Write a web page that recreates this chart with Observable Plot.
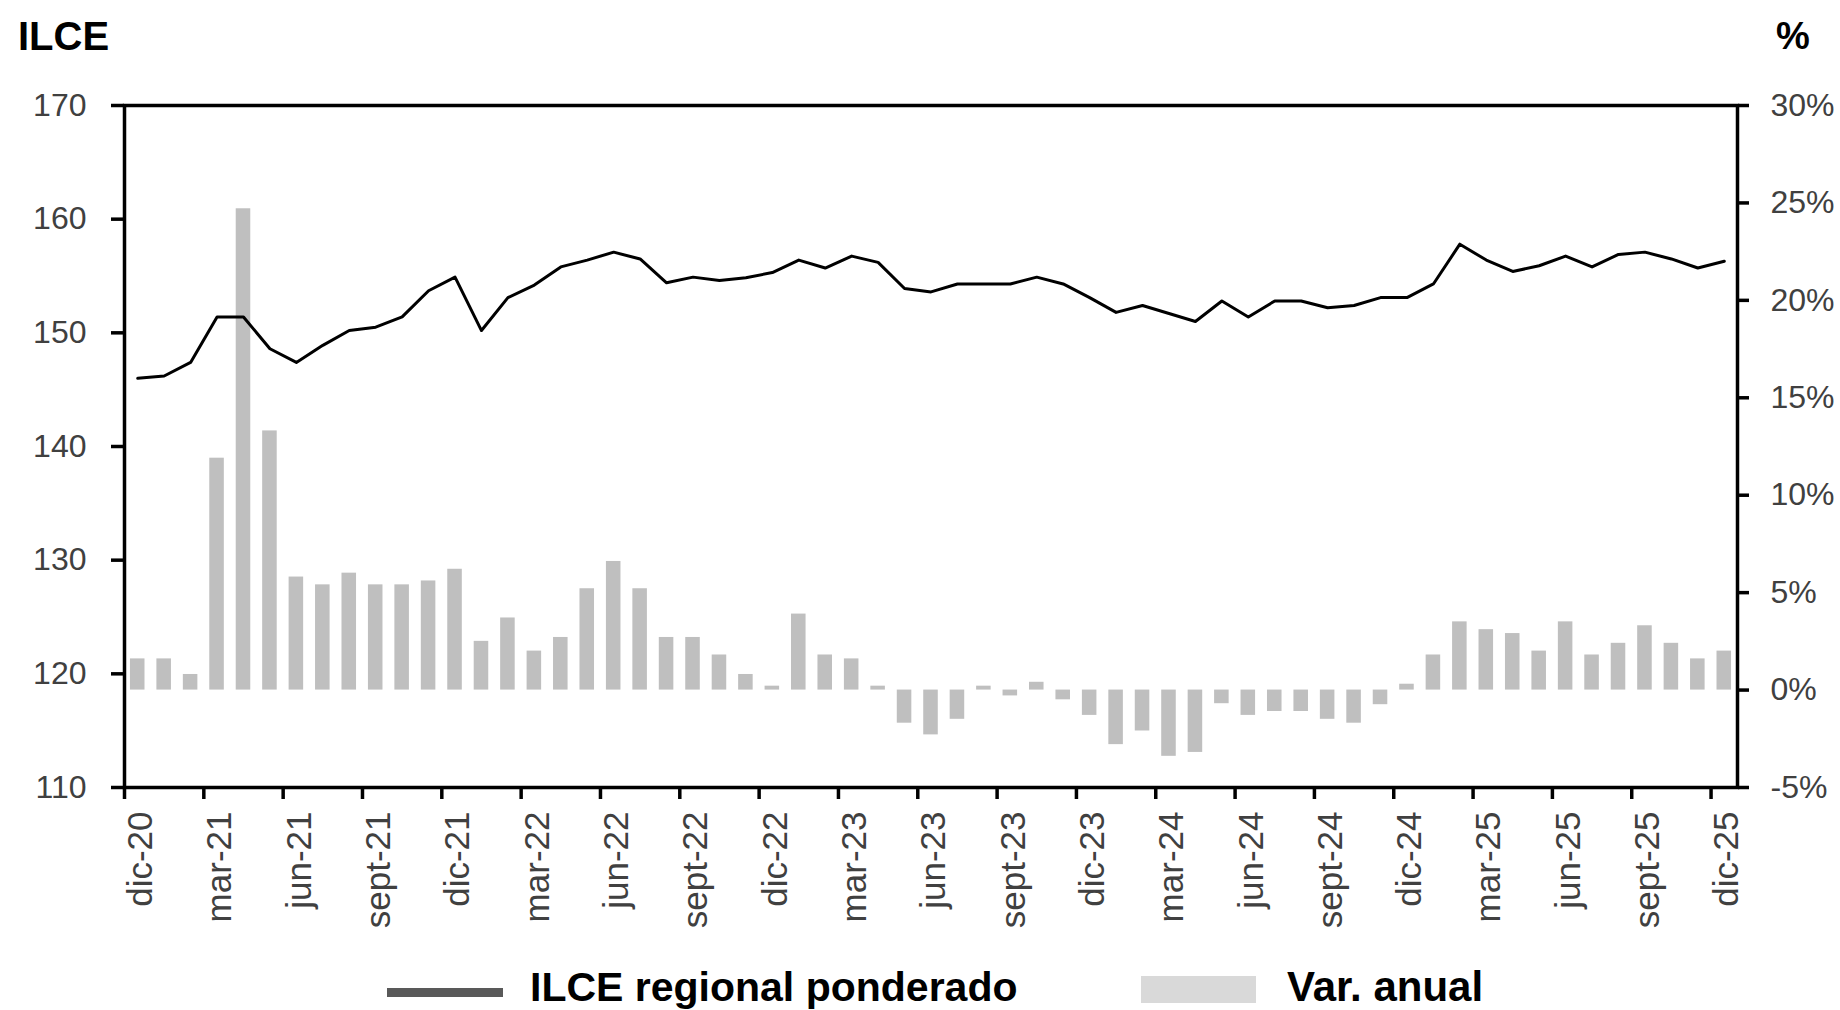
<!DOCTYPE html>
<html>
<head>
<meta charset="utf-8">
<script src="https://cdn.jsdelivr.net/npm/d3@7"></script>
<script src="https://cdn.jsdelivr.net/npm/@observablehq/plot@0.6"></script>
<style>
  html, body { margin: 0; padding: 0; background: #fff; }
  body { position: relative; width: 1840px; height: 1010px; overflow: hidden; font-family: "Liberation Sans", Arial, sans-serif; }
  .abs { position: absolute; line-height: 1; white-space: nowrap; }
  #title { left: 18px; top: 16px; font-size: 40px; font-weight: bold; color: #000; }
  #unit { left: 1776px; top: 17px; font-size: 38px; font-weight: bold; color: #000; }
  #chart { position: absolute; left: 0; top: 70px; }
  .legtext { font-size: 42px; font-weight: bold; color: #000; top: 966px; }
  #swLine { left: 387px; top: 988px; width: 116px; height: 9px; background: #595959; }
  #swBar { left: 1141px; top: 976px; width: 115px; height: 27px; background: #d9d9d9; }
</style>
</head>
<body>
<div id="title" class="abs">ILCE</div>
<div id="unit" class="abs">%</div>
<div id="chart"></div>
<div id="swLine" class="abs"></div>
<div class="abs legtext" style="left:530px;font-size:41px;top:967px">ILCE regional ponderado</div>
<div id="swBar" class="abs"></div>
<div class="abs legtext" style="left:1287px">Var. anual</div>
<script>
// Month categories: dic-20 ... dic-25 (61 months)
const monthNames = ["ene","feb","mar","abr","may","jun","jul","ago","sept","oct","nov","dic"];
const months = ["dic-20"];
for (let y = 21; y <= 25; y++) for (const m of monthNames) months.push(`${m}-${y}`);

// ILCE regional ponderado (left axis)
const ilce = [
  146.0, 146.2, 147.4, 151.4, 151.4, 148.6, 147.4, 148.9, 150.2, 150.5,
  151.4, 153.7, 154.9, 150.2, 153.1, 154.2, 155.8, 156.4, 157.1, 156.5,
  154.4, 154.9, 154.6, 154.85, 155.3, 156.4, 155.7, 156.75, 156.2, 153.9,
  153.6, 154.3, 154.3, 154.3, 154.9, 154.3, 153.1, 151.8, 152.4, 151.7,
  151.0, 152.8, 151.4, 152.8, 152.8, 152.2, 152.4, 153.1, 153.1, 154.3,
  157.8, 156.4, 155.4, 155.9, 156.75, 155.8, 156.9, 157.1, 156.5, 155.7,
  156.3
];

// Var. anual, % (right axis)
const varAnual = [
  1.6, 1.6, 0.8, 11.9, 24.7, 13.3, 5.8, 5.4, 6.0, 5.4,
  5.4, 5.6, 6.2, 2.5, 3.7, 2.0, 2.7, 5.2, 6.6, 5.2,
  2.7, 2.7, 1.8, 0.8, 0.2, 3.9, 1.8, 1.6, 0.2, -1.7,
  -2.3, -1.5, 0.2, -0.3, 0.4, -0.5, -1.3, -2.8, -2.1, -3.4,
  -3.2, -0.7, -1.3, -1.1, -1.1, -1.5, -1.7, -0.75, 0.3, 1.8,
  3.5, 3.1, 2.9, 2.0, 3.5, 1.8, 2.4, 3.3, 2.4, 1.6,
  2.0
];

// Axis tick values
const leftTicks = [110, 120, 130, 140, 150, 160, 170];
const rightTicks = [-5, 0, 5, 10, 15, 20, 25, 30];
const labelEvery = 3;

// Dual axis: map the right (%) domain onto the left domain
const L = [110, 170], R = [-5, 30];
const toLeft = p => L[0] + (p - R[0]) * (L[1] - L[0]) / (R[1] - R[0]);
const toRight = v => R[0] + (v - L[0]) * (R[1] - R[0]) / (L[1] - L[0]);

const data = months.map((m, i) => ({i, m, ilce: ilce[i], v: varAnual[i]}));
const labelIdx = data.filter(d => d.i % labelEvery === 0).map(d => d.i);
const tickPos = labelIdx.map(i => i); // boundaries at left edge of each labelled month
const inset = 0.225;

const fontFam = '"Liberation Sans", Arial, sans-serif';

const chart = Plot.plot({
  width: 1840,
  height: 872,
  marginLeft: 124,
  marginRight: 103,
  marginTop: 35,
  marginBottom: 155,
  style: {fontFamily: fontFam, fontSize: "32px", background: "white", overflow: "visible"},
  x: {type: "linear", domain: [0, months.length], axis: null},
  y: {domain: L, axis: null},
  marks: [
    Plot.rectY(data, {
      x1: d => d.i + inset, x2: d => d.i + 1 - inset,
      y1: () => toLeft(0), y2: d => toLeft(d.v),
      fill: "#bfbfbf"
    }),
    Plot.line(data, {x: d => d.i + 0.5, y: "ilce", stroke: "#000", strokeWidth: 3, strokeLinejoin: "round"}),
    Plot.frame({stroke: "#000", strokeWidth: 3.5}),
    Plot.axisY(leftTicks, {anchor: "left", tickSize: 13, tickPadding: 25, stroke: "#000", strokeWidth: 3.5, fill: "#404040", fontSize: 32, tickFormat: d => String(d), label: null}),
    Plot.axisY(rightTicks.map(toLeft), {anchor: "right", tickSize: 11, tickPadding: 22, stroke: "#000", strokeWidth: 3.5, fill: "#404040", fontSize: 32, tickFormat: d => Math.round(toRight(d)) + "%", label: null}),
    Plot.axisX(tickPos, {anchor: "bottom", tickSize: 12, stroke: "#000", strokeWidth: 3.5, fill: "none", label: null}),
    Plot.axisX(labelIdx.map(i => i + 0.5), {anchor: "bottom", tickSize: 0, tickPadding: 24, tickRotate: -90, dx: 3, fill: "#404040", fontSize: 35, tickFormat: d => months[Math.round(d - 0.5)], label: null})
  ]
});
document.getElementById("chart").appendChild(chart);
</script>
</body>
</html>
